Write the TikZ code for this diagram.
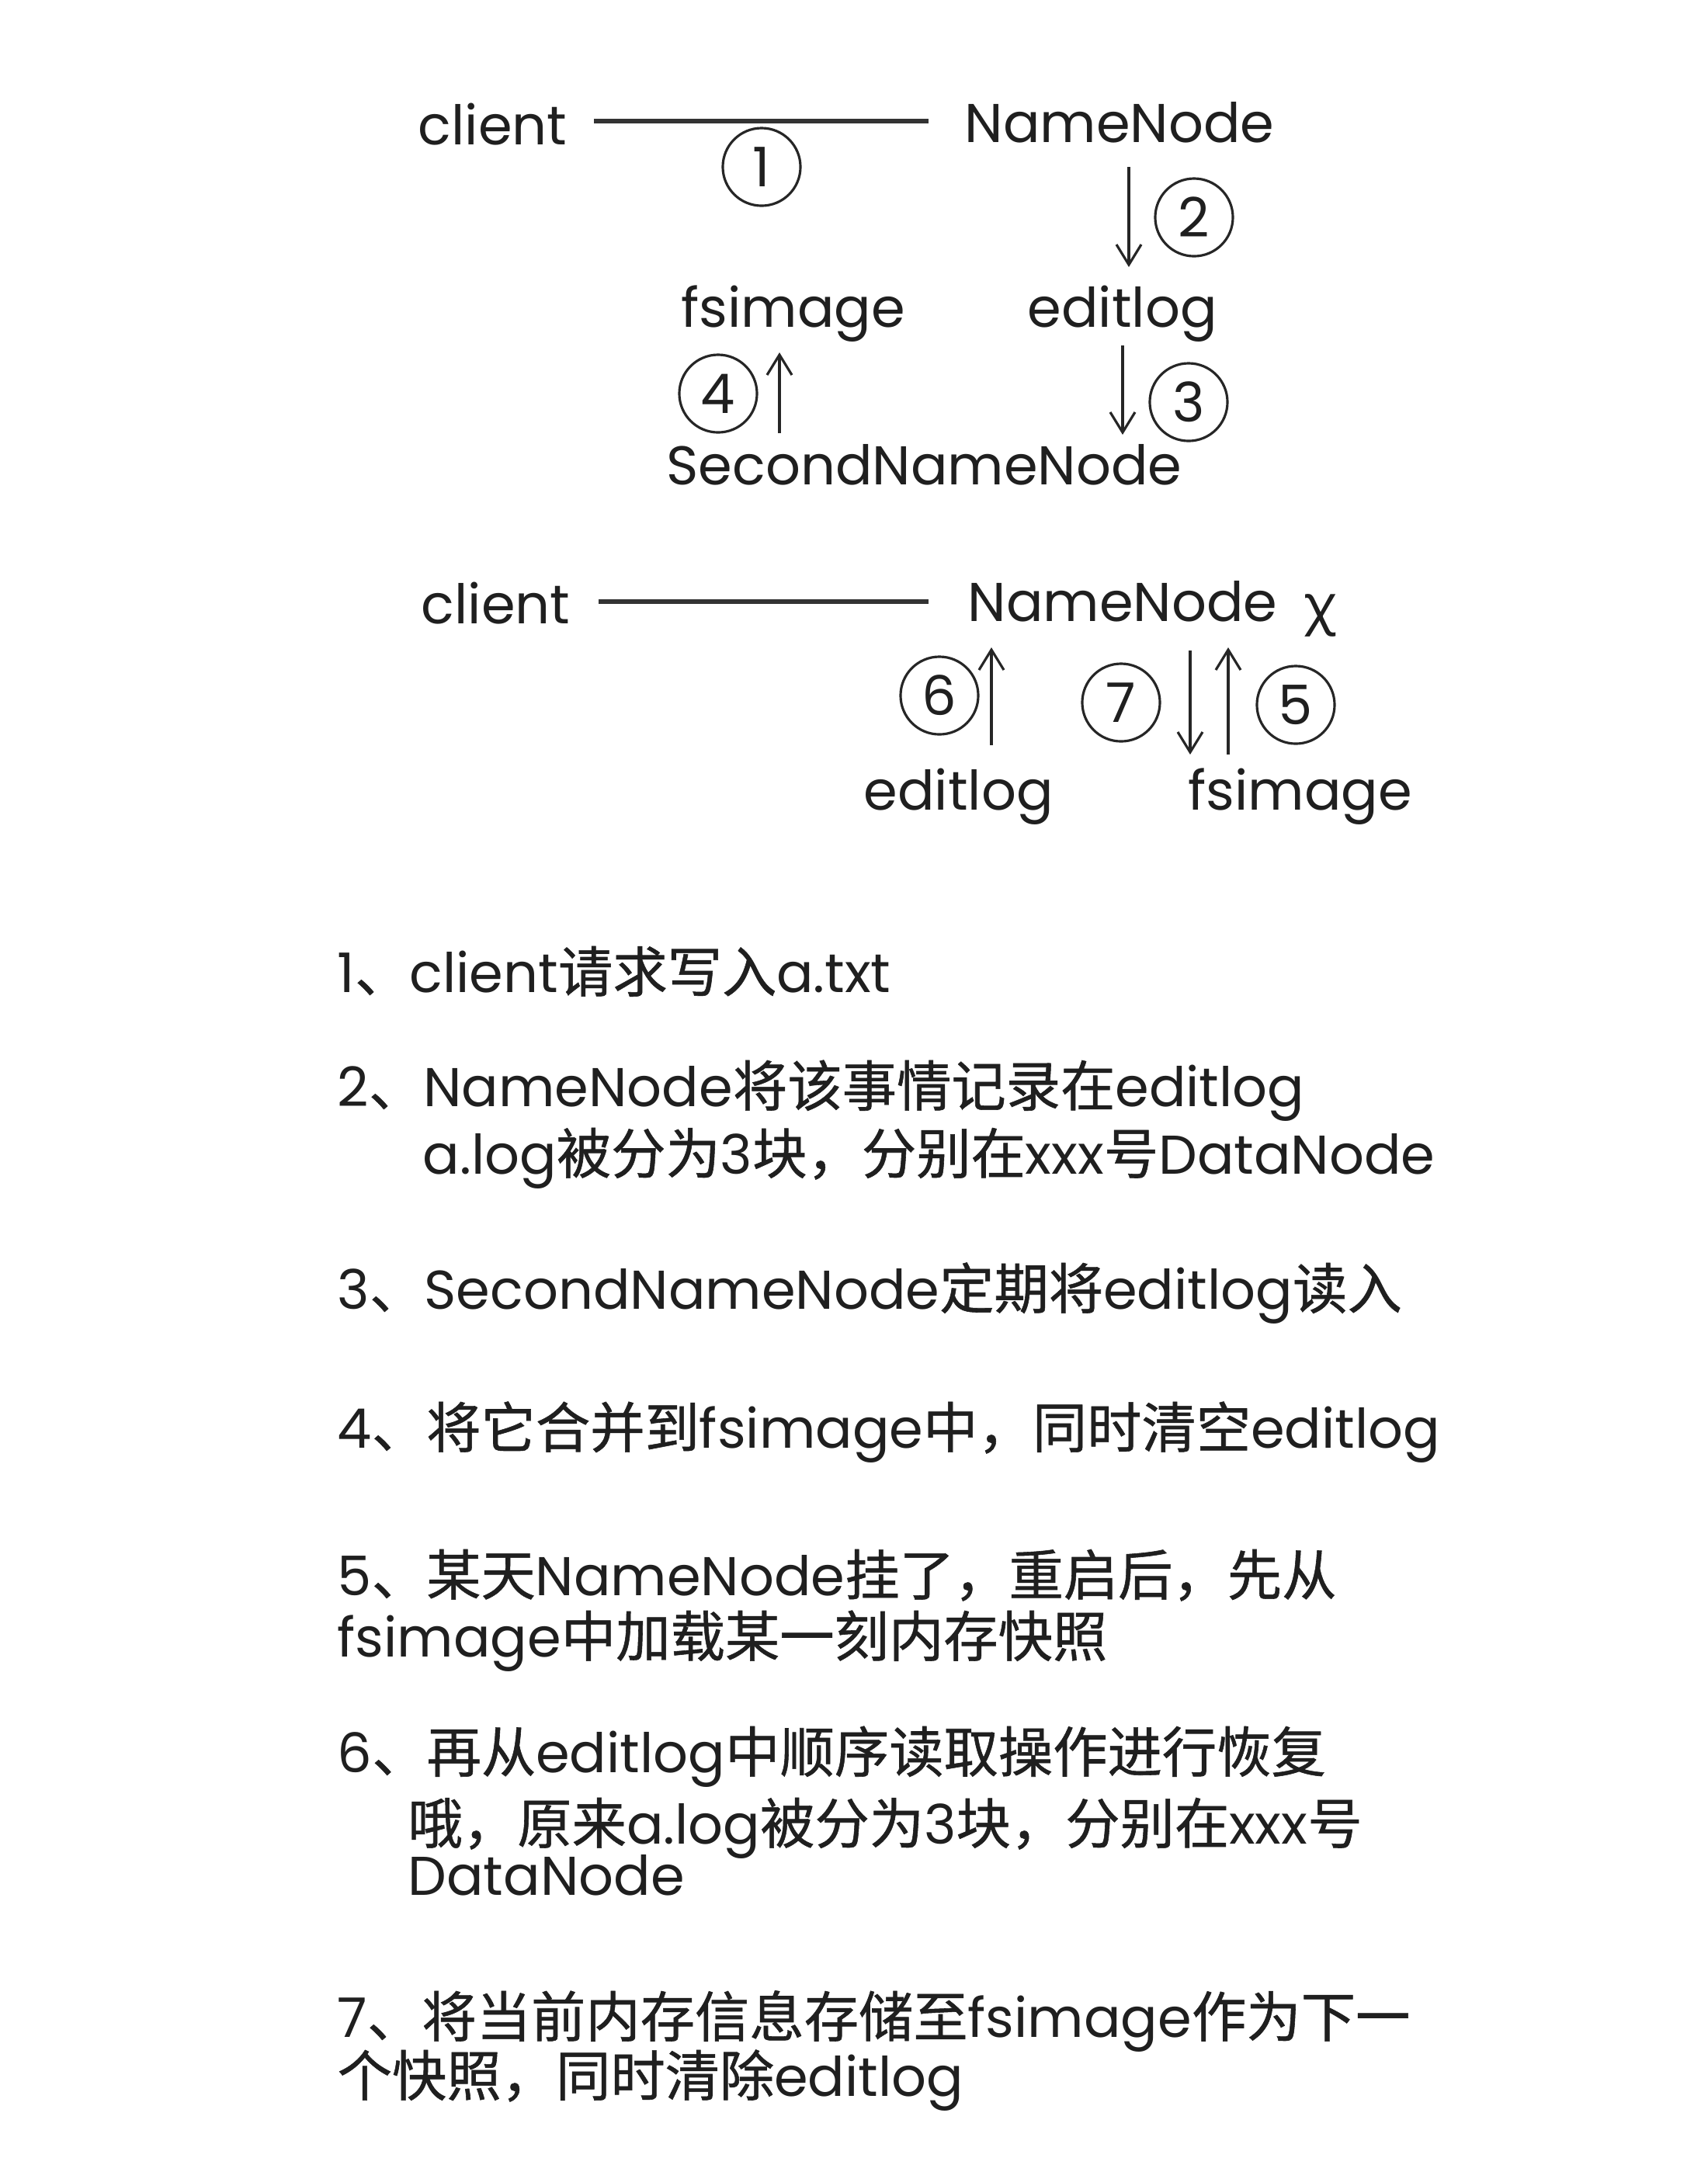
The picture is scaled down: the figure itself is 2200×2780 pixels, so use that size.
\documentclass[tikz,border=0pt]{standalone}
\usepackage{fontspec}
\setmainfont{Poppins}
\newfontfamily\cjk[FakeBold=0.8]{Noto Sans CJK SC}
\newfontfamily\grk{Noto Sans}
\usetikzlibrary{arrows.meta}
\newcommand\zh[1]{{\cjk #1}}
\begin{document}
\begin{tikzpicture}[x=0.01cm,y=-0.01cm,
  txt/.style={anchor=base west, inner sep=0pt, text=black!88, font=\fontsize{20}{24}\selectfont},
  num/.style={circle, draw=black!85, line width=0.9pt, minimum size=1cm, inner sep=0pt, text=black!88, font=\fontsize{20}{24}\selectfont},
  hl/.style={draw=black!80, line width=1.6pt},
  arr/.style={draw=black!85, line width=0.9pt, -{Straight Barb[length=0.26cm,width=0.32cm]}}]
\useasboundingbox[fill=white] (0,0) rectangle (2200,2780);
% ---- diagram 1
\node[txt] (c1) at (538,186) {client};
\node[txt] (n1) at (1242,183) {NameNode};
\node[txt] (f1) at (877,421) {fsimage};
\node[txt] (e1) at (1323,421) {editlog};
\node[txt] (s1) at (858,624) {SecondNameNode};
\node[num] (k1) at (981,215) {1};
\node[num] (k2) at (1538,280) {2};
\node[num] (k3) at (1531,518) {3};
\node[num] (k4) at (925,507) {4};
\coordinate (h1s) at (765,156); \coordinate (h1e) at (1196,156);
\draw[hl] (h1s) -- (h1e);
\coordinate (a2s) at (1454,215); \coordinate (a2e) at (1454,344);
\draw[arr] (a2s) -- (a2e);
\coordinate (a3s) at (1446,445); \coordinate (a3e) at (1446,560);
\draw[arr] (a3s) -- (a3e);
\coordinate (a4s) at (1004,558); \coordinate (a4e) at (1004,454);
\draw[arr] (a4s) -- (a4e);
% ---- diagram 2
\node[txt] (c2) at (542,803) {client};
\node[txt] (n2) at (1246,800) {NameNode};
\node[txt, font=\grk\fontsize{20}{24}\selectfont] (x2) at (1679,803) {χ};
\node[txt] (e2) at (1112,1043) {editlog};
\node[txt] (f2) at (1530,1043) {fsimage};
\node[num] (k6) at (1210,896) {6};
\node[num] (k7) at (1444,905) {7};
\node[num] (k5) at (1669,908) {5};
\coordinate (h2s) at (771,775); \coordinate (h2e) at (1196,775);
\draw[hl] (h2s) -- (h2e);
\coordinate (a6s) at (1277,960); \coordinate (a6e) at (1277,834);
\draw[arr] (a6s) -- (a6e);
\coordinate (a7s) at (1533,838); \coordinate (a7e) at (1533,972);
\draw[arr] (a7s) -- (a7e);
\coordinate (a5s) at (1582,972); \coordinate (a5e) at (1582,834);
\draw[arr] (a5s) -- (a5e);
% ---- list
\node[txt] (l1) at (434,1278) {1\zh{、}client\zh{请求写入}a.txt};
\node[txt] (l2) at (434,1425) {2\zh{、}NameNode\zh{将该事情记录在}editlog};
\node[txt] (l2b) at (544,1512) {a.log\zh{被分为}3\zh{块，分别在}xxx\zh{号}DataNode};
\node[txt] (l3) at (434,1686) {3\zh{、}SecondNameNode\zh{定期将}editlog\zh{读入}};
\node[txt] (l4) at (434,1865) {4\zh{、将它合并到}fsimage\zh{中，同时清空}editlog};
\node[txt] (l5) at (434,2055) {5\zh{、某天}NameNode\zh{挂了，重启后，先从}};
\node[txt] (l5b) at (434,2134) {fsimage\zh{中加载某一刻内存快照}};
\node[txt] (l6) at (434,2283) {6\zh{、再从}editlog\zh{中顺序读取操作进行恢复}};
\node[txt] (l6b) at (525,2375) {\zh{哦，原来}a.log\zh{被分为}3\zh{块，分别在}xxx\zh{号}};
\node[txt] (l6c) at (525,2441) {DataNode};
\node[txt] (l7) at (434,2624) {7\zh{、将当前内存信息存储至}fsimage\zh{作为下一}};
\node[txt] (l7b) at (434,2700) {\zh{个快照，同时清除}editlog};
\end{tikzpicture}
\end{document}
